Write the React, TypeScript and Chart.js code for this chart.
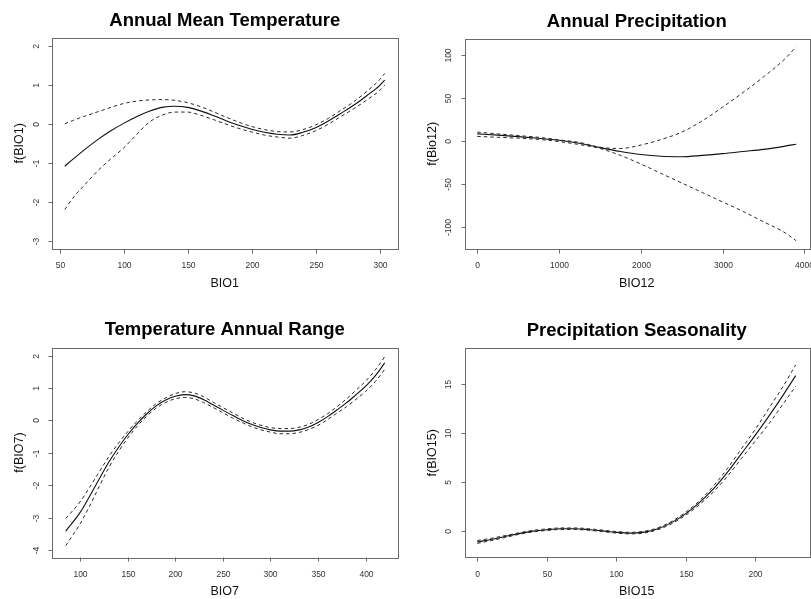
import React, { useEffect, useRef } from "react";
import { Chart, registerables } from "chart.js";

Chart.register(...registerables);

// ---------- Data ----------
// Panel 1: Annual Mean Temperature (BIO1)
const bio1X = [54, 60, 70, 80, 90, 100, 110, 120, 130, 140, 150, 160, 170, 180, 190, 200, 210, 220, 230, 240, 250, 260, 270, 280, 290, 300, 304];
const bio1Fit = [-1.09, -0.92, -0.65, -0.4, -0.18, 0.01, 0.18, 0.32, 0.42, 0.45, 0.42, 0.33, 0.21, 0.08, -0.04, -0.14, -0.22, -0.27, -0.29, -0.22, -0.1, 0.07, 0.27, 0.48, 0.72, 0.98, 1.12];
const bio1Upper = [0.0, 0.08, 0.2, 0.31, 0.42, 0.52, 0.58, 0.61, 0.62, 0.6, 0.54, 0.44, 0.31, 0.17, 0.04, -0.07, -0.15, -0.2, -0.21, -0.15, -0.03, 0.14, 0.35, 0.57, 0.83, 1.13, 1.29];
const bio1Lower = [-2.2, -1.92, -1.55, -1.2, -0.9, -0.62, -0.28, 0.04, 0.22, 0.3, 0.3, 0.22, 0.11, -0.01, -0.12, -0.21, -0.29, -0.34, -0.37, -0.3, -0.18, -0.01, 0.19, 0.39, 0.61, 0.85, 0.99];
const bio1XTicks = [50, 100, 150, 200, 250, 300];
const bio1YTicks = [-3, -2, -1, 0, 1, 2];

// Panel 2: Annual Precipitation (BIO12)
const bio12X = [0, 250, 500, 750, 1000, 1250, 1500, 1750, 2000, 2250, 2500, 2750, 3000, 3250, 3500, 3750, 3900];
const bio12Fit = [8, 6.5, 4.8, 2.8, 0.5, -3, -8, -12.5, -16, -18, -18.5, -17, -15, -12.5, -10, -6.5, -4];
const bio12Upper = [10, 8, 6, 4, 1, -2, -7.5, -9, -5, 1.5, 10, 23, 39, 56, 74, 94, 109];
const bio12Lower = [5, 4, 3, 1.5, -1, -4.5, -9, -17, -27, -38, -49, -60, -71, -82, -94, -106, -116];
const bio12XTicks = [0, 1000, 2000, 3000, 4000];
const bio12YTicks = [-100, -50, 0, 50, 100];

// Panel 3: Temperature Annual Range (BIO7)
const bio7X = [85, 100, 110, 120, 130, 140, 150, 160, 170, 180, 190, 200, 210, 220, 230, 240, 250, 260, 270, 280, 290, 300, 310, 320, 330, 340, 350, 360, 370, 380, 390, 400, 410, 420];
const bio7Fit = [-3.42, -2.85, -2.35, -1.82, -1.3, -0.85, -0.45, -0.1, 0.2, 0.45, 0.63, 0.75, 0.8, 0.76, 0.64, 0.48, 0.32, 0.16, 0.01, -0.12, -0.22, -0.29, -0.33, -0.33, -0.29, -0.2, -0.06, 0.12, 0.33, 0.55, 0.8, 1.06, 1.38, 1.78];
const bio7Upper = [-3.03, -2.52, -2.07, -1.6, -1.13, -0.72, -0.35, -0.02, 0.27, 0.52, 0.7, 0.83, 0.89, 0.85, 0.73, 0.56, 0.4, 0.24, 0.08, -0.05, -0.15, -0.22, -0.25, -0.25, -0.21, -0.12, 0.03, 0.21, 0.43, 0.67, 0.94, 1.22, 1.56, 1.97];
const bio7Lower = [-3.87, -3.2, -2.65, -2.05, -1.47, -0.98, -0.55, -0.18, 0.13, 0.38, 0.56, 0.67, 0.71, 0.67, 0.55, 0.4, 0.24, 0.08, -0.06, -0.19, -0.29, -0.36, -0.41, -0.41, -0.37, -0.28, -0.15, 0.03, 0.23, 0.43, 0.66, 0.9, 1.2, 1.58];
const bio7XTicks = [100, 150, 200, 250, 300, 350, 400];
const bio7YTicks = [-4, -3, -2, -1, 0, 1, 2];

// Panel 4: Precipitation Seasonality (BIO15)
const bio15X = [0, 10, 20, 30, 40, 50, 60, 70, 80, 90, 100, 110, 120, 130, 140, 150, 160, 170, 180, 190, 200, 210, 220, 229];
const bio15Fit = [-1.15, -0.9, -0.6, -0.3, -0.05, 0.1, 0.2, 0.2, 0.12, -0.02, -0.17, -0.25, -0.15, 0.2, 0.85, 1.75, 2.9, 4.3, 6.0, 7.9, 9.8, 11.8, 13.9, 15.9];
const bio15Upper = [-1.0, -0.78, -0.5, -0.22, 0.03, 0.18, 0.28, 0.28, 0.2, 0.06, -0.09, -0.17, -0.06, 0.3, 0.97, 1.9, 3.1, 4.6, 6.4, 8.4, 10.4, 12.6, 14.8, 17.0];
const bio15Lower = [-1.3, -1.02, -0.7, -0.38, -0.13, 0.02, 0.12, 0.12, 0.04, -0.1, -0.25, -0.33, -0.24, 0.1, 0.73, 1.6, 2.7, 4.0, 5.6, 7.4, 9.2, 11.0, 13.0, 14.8];
const bio15XTicks = [0, 50, 100, 150, 200];
const bio15YTicks = [0, 5, 10, 15];

// ---------- Panels ----------
type Panel = {
  left: number; top: number; width: number; height: number;
  box: [number, number, number, number];
  xMin: number; xMax: number; yMin: number; yMax: number;
  xs: number[]; fit: number[]; upper: number[]; lower: number[];
  xTicks: number[]; yTicks: number[];
  title: string; xLabel: string; yLabel: string;
};

const panels: Panel[] = [
  {
    left: 0, top: 0, width: 405, height: 300, box: [52, 38, 397.5, 248.5],
    xMin: 44, xMax: 314, yMin: -3.2, yMax: 2.2,
    xs: bio1X, fit: bio1Fit, upper: bio1Upper, lower: bio1Lower,
    xTicks: bio1XTicks, yTicks: bio1YTicks,
    title: "Annual Mean Temperature", xLabel: "BIO1", yLabel: "f(BIO1)",
  },
  {
    left: 405, top: 0, width: 406, height: 300, box: [464.5, 39, 809, 248.5],
    xMin: -156, xMax: 4056, yMin: -125, yMax: 118,
    xs: bio12X, fit: bio12Fit, upper: bio12Upper, lower: bio12Lower,
    xTicks: bio12XTicks, yTicks: bio12YTicks,
    title: "Annual Precipitation", xLabel: "BIO12", yLabel: "f(Bio12)",
  },
  {
    left: 0, top: 300, width: 405, height: 299, box: [52, 347.7, 397.5, 557.3],
    xMin: 70.6, xMax: 433.4, yMin: -4.23, yMax: 2.25,
    xs: bio7X, fit: bio7Fit, upper: bio7Upper, lower: bio7Lower,
    xTicks: bio7XTicks, yTicks: bio7YTicks,
    title: "Temperature Annual Range", xLabel: "BIO7", yLabel: "f(BIO7)",
  },
  {
    left: 405, top: 300, width: 406, height: 299, box: [464.5, 348.3, 809, 557.3],
    xMin: -9.2, xMax: 238.6, yMin: -2.73, yMax: 18.7,
    xs: bio15X, fit: bio15Fit, upper: bio15Upper, lower: bio15Lower,
    xTicks: bio15XTicks, yTicks: bio15YTicks,
    title: "Precipitation Seasonality", xLabel: "BIO15", yLabel: "f(BIO15)",
  },
];

const FONT = "'Liberation Sans', Arial, Helvetica, sans-serif";

function makeFramePlugin(p: Panel) {
  return {
    id: "rFrame",
    afterDraw(chart: any) {
      const ctx = chart.ctx as CanvasRenderingContext2D;
      const a = chart.chartArea;
      const xs = chart.scales.x;
      const ys = chart.scales.y;
      ctx.save();
      // box
      ctx.strokeStyle = "#6b6b6b";
      ctx.lineWidth = 1;
      ctx.strokeRect(Math.round(a.left) + 0.5, Math.round(a.top) + 0.5, Math.round(a.right - a.left), Math.round(a.bottom - a.top));
      const bottom = Math.round(a.bottom) + 0.5;
      const left = Math.round(a.left) + 0.5;
      // x ticks
      ctx.fillStyle = "#333";
      ctx.font = `8.5px ${FONT}`;
      ctx.textAlign = "center";
      ctx.textBaseline = "alphabetic";
      for (const v of p.xTicks) {
        const px = Math.round(xs.getPixelForValue(v)) + 0.5;
        ctx.beginPath();
        ctx.moveTo(px, bottom);
        ctx.lineTo(px, bottom + 4);
        ctx.stroke();
        ctx.fillText(String(v), px, a.bottom + 19.5);
      }
      // y ticks
      for (const v of p.yTicks) {
        const py = Math.round(ys.getPixelForValue(v)) + 0.5;
        ctx.beginPath();
        ctx.moveTo(left, py);
        ctx.lineTo(left - 4, py);
        ctx.stroke();
        ctx.save();
        ctx.translate(a.left - 13.5, py);
        ctx.rotate(-Math.PI / 2);
        ctx.fillText(String(v), 0, 0);
        ctx.restore();
      }
      // axis titles
      ctx.fillStyle = "#111";
      ctx.font = `12.5px ${FONT}`;
      ctx.fillText(p.xLabel, (a.left + a.right) / 2, a.bottom + 38);
      ctx.save();
      ctx.translate(a.left - 29, (a.top + a.bottom) / 2);
      ctx.rotate(-Math.PI / 2);
      ctx.fillText(p.yLabel, 0, 0);
      ctx.restore();
      // main title
      ctx.fillStyle = "#000";
      ctx.font = `bold 18.5px ${FONT}`;
      ctx.fillText(p.title, (a.left + a.right) / 2, a.top - 12.5);
      ctx.restore();
    },
  };
}

function PanelChart({ p }: { p: Panel }) {
  const ref = useRef<HTMLCanvasElement | null>(null);
  useEffect(() => {
    if (!ref.current) return;
    const toPts = (ys: number[]) => p.xs.map((x, i) => ({ x, y: ys[i] }));
    const common = {
      pointRadius: 0,
      borderWidth: 1,
      fill: false,
      cubicInterpolationMode: "monotone" as const,
    };
    const chart = new Chart(ref.current, {
      type: "line",
      data: {
        datasets: [
          { ...common, label: "upper", data: toPts(p.upper), borderColor: "#2a2a2a", borderDash: [3.5, 3] },
          { ...common, label: "lower", data: toPts(p.lower), borderColor: "#2a2a2a", borderDash: [3.5, 3] },
          { ...common, label: "fit", data: toPts(p.fit), borderColor: "#111", borderWidth: 1.1 },
        ],
      },
      options: {
        animation: false,
        responsive: false,
        devicePixelRatio: 1,
        events: [],
        layout: {
          padding: {
            left: p.box[0] - p.left,
            top: p.box[1] - p.top,
            right: p.left + p.width - p.box[2],
            bottom: p.top + p.height - p.box[3],
          },
        },
        plugins: { legend: { display: false }, title: { display: false }, tooltip: { enabled: false } },
        scales: {
          x: { type: "linear", min: p.xMin, max: p.xMax, display: false },
          y: { type: "linear", min: p.yMin, max: p.yMax, display: false },
        },
      },
      plugins: [makeFramePlugin(p)],
    });
    return () => chart.destroy();
  }, [p]);
  return (
    <canvas
      ref={ref}
      width={p.width}
      height={p.height}
      style={{ position: "absolute", left: p.left, top: p.top, width: p.width, height: p.height }}
    />
  );
}

export default function App() {
  return (
    <div style={{ position: "fixed", left: 0, top: 0, width: 811, height: 599, background: "#fff", overflow: "hidden" }}>
      {panels.map((p, i) => (
        <PanelChart key={i} p={p} />
      ))}
    </div>
  );
}
